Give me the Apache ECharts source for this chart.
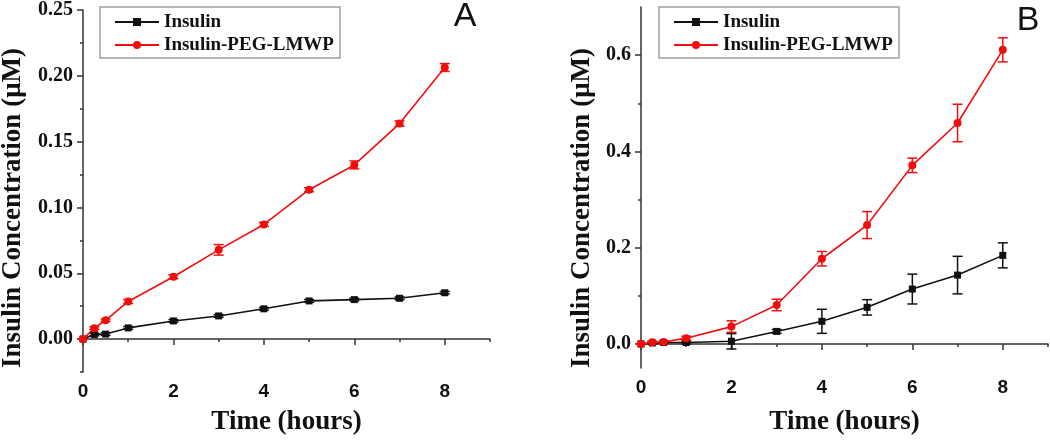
<!DOCTYPE html>
<html>
<head>
<meta charset="utf-8">
<script src="https://cdn.jsdelivr.net/npm/echarts@6/dist/echarts.min.js"></script>
<style>
  html, body { margin: 0; padding: 0; background: #fff; }
  #main { width: 1050px; height: 441px; }
</style>
</head>
<body>
<div id="main"></div>
<script>
// sampling times (hours)
const timePoints = [0, 0.25, 0.5, 1, 2, 3, 4, 5, 6, 7, 8];

// panel A
const insulinA = [0, 0.0035, 0.0038, 0.0085, 0.0138, 0.0176, 0.023, 0.029, 0.030, 0.031, 0.0352];
const insulinAErr = [0, 0.001, 0.001, 0.001, 0.001, 0.001, 0.001, 0.001, 0.001, 0.001, 0.001];
const pegA = [0, 0.0083, 0.0143, 0.0286, 0.0474, 0.0678, 0.0871, 0.1135, 0.1323, 0.1637, 0.2063];
const pegAErr = [0, 0.001, 0.001, 0.0015, 0.0015, 0.004, 0.0015, 0.0015, 0.003, 0.002, 0.003];

// panel B
const insulinB = [0, 0.002, 0.003, 0.003, 0.0055, 0.026, 0.047, 0.076, 0.114, 0.143, 0.184];
const insulinBErr = [0, 0.002, 0.002, 0.003, 0.016, 0.004, 0.025, 0.016, 0.031, 0.039, 0.026];
const pegB = [0, 0.0035, 0.004, 0.012, 0.036, 0.081, 0.177, 0.247, 0.371, 0.459, 0.611];
const pegBErr = [0, 0.002, 0.002, 0.004, 0.012, 0.012, 0.015, 0.028, 0.015, 0.039, 0.025];

// tick labels
const xMajor = [0, 2, 4, 6, 8];
const xMinor = [1, 3, 5, 7, 9];
const yMajorA = [0, 0.05, 0.10, 0.15, 0.20, 0.25];
const yMinorA = [-0.025, 0.025, 0.075, 0.125, 0.175, 0.225];
const yMajorB = [0, 0.2, 0.4, 0.6];
const yMinorB = [0.1, 0.3, 0.5];

const seriesNames = ['Insulin', 'Insulin-PEG-LMWP'];
const BLACK = '#111111';
const RED = '#f20d0d';
const AXIS = '#333333';
const serif = '"Liberation Serif", "Times New Roman", serif';
const sans = '"Liberation Sans", Arial, sans-serif';

function pairs(ys) {
  return timePoints.map((t, i) => [t, ys[i]]);
}
function errPairs(ys, errs) {
  return timePoints.map((t, i) => [t, ys[i] - errs[i], ys[i] + errs[i]]);
}

function errorSeries(name, color, data, axisIdx) {
  return {
    name: name,
    type: 'custom',
    xAxisIndex: axisIdx,
    yAxisIndex: axisIdx,
    z: 3,
    silent: true,
    renderItem: function (params, api) {
      const lo = api.coord([api.value(0), api.value(1)]);
      const hi = api.coord([api.value(0), api.value(2)]);
      const w = 5;
      const st = { stroke: color, lineWidth: 1.5, fill: null };
      return {
        type: 'group',
        children: [
          { type: 'line', shape: { x1: lo[0], y1: lo[1], x2: hi[0], y2: hi[1] }, style: st },
          { type: 'line', shape: { x1: lo[0] - w, y1: lo[1], x2: lo[0] + w, y2: lo[1] }, style: st },
          { type: 'line', shape: { x1: hi[0] - w, y1: hi[1], x2: hi[0] + w, y2: hi[1] }, style: st }
        ]
      };
    },
    data: data
  };
}

function lineSeries(name, color, symbol, size, data, axisIdx) {
  return {
    name: name,
    type: 'line',
    xAxisIndex: axisIdx,
    yAxisIndex: axisIdx,
    symbol: symbol,
    symbolSize: size,
    showAllSymbol: true,
    z: 4,
    lineStyle: { color: color, width: 1.6 },
    itemStyle: { color: color },
    data: data
  };
}

function xAxes(grid) {
  return [{
    type: 'value', gridIndex: grid, position: 'bottom', min: 0, max: 9,
    name: 'Time (hours)', nameLocation: 'middle', nameGap: grid === 0 ? 37 : 41,
    nameTextStyle: { fontFamily: serif, fontWeight: 'bold', fontSize: 27, color: BLACK },
    axisLine: { lineStyle: { color: AXIS, width: 1.5 } },
    axisTick: { length: 6, customValues: xMajor, lineStyle: { color: AXIS, width: 1.5 } },
    axisLabel: { customValues: xMajor, margin: 10, fontFamily: sans, fontWeight: 'bold', fontSize: 19, color: BLACK },
    splitLine: { show: false }
  }, {
    type: 'value', gridIndex: grid, position: 'bottom', min: 0, max: 9,
    axisLine: { show: false },
    axisTick: { length: 3, customValues: xMinor, lineStyle: { color: AXIS, width: 1.5 } },
    axisLabel: { show: false },
    splitLine: { show: false }
  }];
}

function yAxes(grid, min, max, major, minor, digits) {
  return [{
    type: 'value', gridIndex: grid, position: 'left', min: min, max: max,
    axisLine: { show: true, lineStyle: { color: AXIS, width: 1.5 } },
    axisTick: { show: true, length: 6, customValues: major, lineStyle: { color: AXIS, width: 1.5 } },
    axisLabel: {
      customValues: major, margin: 10, fontFamily: serif, fontWeight: 'bold', fontSize: 20, color: BLACK,
      formatter: v => v.toFixed(digits)
    },
    splitLine: { show: false }
  }, {
    type: 'value', gridIndex: grid, position: 'left', min: min, max: max,
    axisLine: { show: false },
    axisTick: { show: true, length: 3, customValues: minor, lineStyle: { color: AXIS, width: 1.5 } },
    axisLabel: { show: false },
    splitLine: { show: false }
  }];
}

function legendAt(left) {
  return {
    data: seriesNames,
    orient: 'vertical',
    left: left,
    top: 7,
    padding: [5, 6, 3, 14],
    itemGap: 3,
    itemWidth: 44,
    itemHeight: 10,
    backgroundColor: '#fff',
    borderColor: '#a0a0a0',
    borderWidth: 1.5,
    borderRadius: 0,
    selectedMode: false,
    textStyle: { fontFamily: serif, fontWeight: 'bold', fontSize: 19, lineHeight: 20, color: BLACK }
  };
}

const chart = echarts.init(document.getElementById('main'), null, { renderer: 'canvas' });

const option = {
  backgroundColor: '#fff',
  animation: false,
  grid: [
    { left: 83, top: 7, width: 407, height: 365 },
    { left: 641, top: 7, width: 407, height: 362 }
  ],
  legend: [legendAt(100), legendAt(659)],
  xAxis: xAxes(0).concat(xAxes(1)),
  yAxis: yAxes(0, -0.025, 0.25, yMajorA, yMinorA, 2).concat(yAxes(1, -0.05, 0.7, yMajorB, yMinorB, 1)),
  graphic: [
    { type: 'text', x: 13, y: 208, rotation: Math.PI / 2,
      style: { text: 'Insulin Concentration (μM)', font: 'bold 27px ' + serif, fill: BLACK, align: 'center', verticalAlign: 'middle' } },
    { type: 'text', x: 582, y: 208, rotation: Math.PI / 2,
      style: { text: 'Insulin Concentration (μM)', font: 'bold 27px ' + serif, fill: BLACK, align: 'center', verticalAlign: 'middle' } },
    { type: 'text', x: 465, y: 17,
      style: { text: 'A', font: '34px ' + sans, fill: BLACK, align: 'center', verticalAlign: 'middle' } },
    { type: 'text', x: 1028, y: 21,
      style: { text: 'B', font: '34px ' + sans, fill: BLACK, align: 'center', verticalAlign: 'middle' } }
  ],
  series: [
    errorSeries('Insulin error A', BLACK, errPairs(insulinA, insulinAErr), 0),
    errorSeries('PEG error A', RED, errPairs(pegA, pegAErr), 0),
    lineSeries('Insulin', BLACK, 'rect', 7, pairs(insulinA), 0),
    lineSeries('Insulin-PEG-LMWP', RED, 'circle', 8, pairs(pegA), 0),
    errorSeries('Insulin error B', BLACK, errPairs(insulinB, insulinBErr), 2),
    errorSeries('PEG error B', RED, errPairs(pegB, pegBErr), 2),
    lineSeries('Insulin', BLACK, 'rect', 7, pairs(insulinB), 2),
    lineSeries('Insulin-PEG-LMWP', RED, 'circle', 8, pairs(pegB), 2)
  ]
};

chart.setOption(option);
</script>
</body>
</html>
